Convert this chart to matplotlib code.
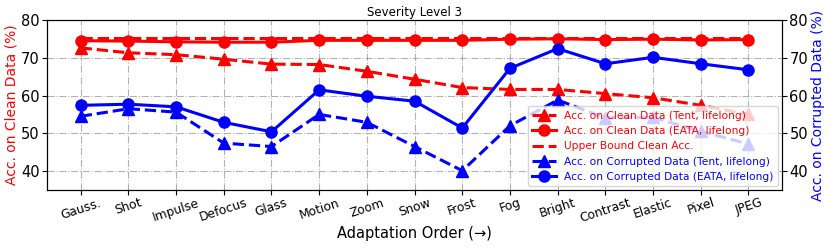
import numpy as np
import matplotlib.pyplot as plt

corruptions = ['Gauss.', 'Shot', 'Impulse', 'Defocus', 'Glass', 'Motion', 'Zoom', 'Snow',
               'Frost', 'Fog', 'Bright', 'Contrast', 'Elastic', 'Pixel', 'JPEG']

clean_tent = [72.6, 71.3, 70.8, 69.6, 68.3, 68.2, 66.4, 64.3, 62.1, 61.6, 61.6, 60.5, 59.4, 57.4, 55.0]
clean_eata = [74.5, 74.4, 74.2, 74.1, 74.1, 74.6, 74.6, 74.6, 74.6, 74.9, 75.0, 74.8, 74.9, 74.7, 74.8]
upper_bound = [75.2] * 15
corr_tent = [54.5, 56.5, 55.6, 47.4, 46.5, 55.0, 52.9, 46.5, 40.1, 52.0, 58.8, 54.1, 54.2, 50.5, 47.2]
corr_eata = [57.4, 57.7, 57.0, 52.9, 50.4, 61.5, 59.8, 58.5, 51.4, 67.2, 72.4, 68.4, 70.1, 68.4, 66.8]

x = np.arange(len(corruptions))

fig, ax1 = plt.subplots(figsize=(8.3, 2.49), dpi=100)
fig.subplots_adjust(left=0.057, right=0.942, top=0.92, bottom=0.237)
ax2 = ax1.twinx()

lw, ms = 2.2, 8
l1, = ax1.plot(x, clean_tent, 'r--^', lw=lw, ms=ms, label='Acc. on Clean Data (Tent, lifelong)')
l2, = ax1.plot(x, clean_eata, 'r-o', lw=lw, ms=ms, label='Acc. on Clean Data (EATA, lifelong)')
l3, = ax1.plot(x, upper_bound, 'r--', lw=lw, label='Upper Bound Clean Acc.')
l4, = ax2.plot(x, corr_tent, 'b--^', lw=lw, ms=ms, label='Acc. on Corrupted Data (Tent, lifelong)')
l5, = ax2.plot(x, corr_eata, 'b-o', lw=lw, ms=ms, label='Acc. on Corrupted Data (EATA, lifelong)')

for ax in (ax1, ax2):
    ax.set_ylim(35, 80)
    ax.set_yticks([40, 50, 60, 70, 80])
    ax.tick_params(axis='y', labelsize=10.5, pad=2)
ax1.set_xlim(-0.7, 14.7)
ax1.set_xticks(x)
ax1.set_xticklabels(corruptions, rotation=18, fontsize=8.8)
ax1.tick_params(axis='x', pad=1)
ax1.grid(True, linestyle='-.', color='gray', alpha=0.6)

ax1.set_ylabel('Acc. on Clean Data (%)', color='red', fontsize=10, labelpad=2)
ax2.set_ylabel('Acc. on Corrupted Data (%)', color='blue', fontsize=10, labelpad=2)
ax1.set_xlabel('Adaptation Order (→)', fontsize=10.5, labelpad=1)
ax1.set_title('Severity Level 3', fontsize=8.5, pad=3)

leg = ax2.legend(handles=[l1, l2, l3, l4, l5], loc='lower right', fontsize=7.7,
                 handlelength=2.2, borderaxespad=0.35, labelspacing=0.5)
for h, t in zip(leg.legend_handles, leg.get_texts()):
    t.set_color(h.get_color())

fig.savefig('out.png', dpi=100)
